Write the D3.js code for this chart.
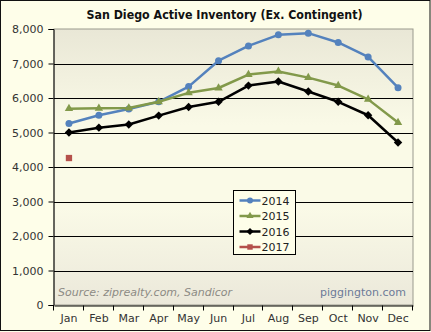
<!DOCTYPE html>
<html>
<head>
<meta charset="utf-8">
<script src="https://cdn.jsdelivr.net/npm/d3@7"></script>
<style>
  html, body { margin: 0; padding: 0; background: #fefee9; }
  svg { display: block; }
  text { font-family: Verdana, "DejaVu Sans", sans-serif; }
</style>
</head>
<body>
<svg id="chart" width="431" height="332"></svg>
<script>
// Monthly active listings (excluding contingent), San Diego
const months = ["Jan","Feb","Mar","Apr","May","Jun","Jul","Aug","Sep","Oct","Nov","Dec"];
const s2014 = [5260, 5500, 5680, 5890, 6330, 7080, 7510, 7830, 7880, 7610, 7190, 6300];
const s2015 = [5690, 5700, 5710, 5890, 6150, 6290, 6680, 6770, 6590, 6360, 5960, 5290];
const s2016 = [5000, 5140, 5230, 5490, 5740, 5890, 6360, 6480, 6190, 5890, 5500, 4710];
const s2017 = [4260];
const yTicks = [0, 1000, 2000, 3000, 4000, 5000, 6000, 7000, 8000];
const seriesNames = ["2014", "2015", "2016", "2017"];

const series = [
  { name: seriesNames[0], values: s2014, color: "#5482bd", shape: "circle" },
  { name: seriesNames[1], values: s2015, color: "#82994a", shape: "triangle" },
  { name: seriesNames[2], values: s2016, color: "#000000", shape: "diamond" },
  { name: seriesNames[3], values: s2017, color: "#b5514b", shape: "square" }
];

const svg = d3.select("#chart");
const W = 431, H = 332;
const plot = { left: 54, right: 413, top: 29, bottom: 305 };

// outer frame
svg.append("rect").attr("x", 0.5).attr("y", 0.5).attr("width", W - 1.5).attr("height", H - 2)
  .attr("fill", "#fefee9").attr("stroke", "#111").attr("stroke-width", 1);

const x = d3.scaleBand().domain(months).range([plot.left, plot.right]).padding(0);
const y = d3.scaleLinear().domain([0, 8000]).range([plot.bottom, plot.top]);
const cx = m => x(m) + x.bandwidth() / 2;

// plot area background
const defs = svg.append("defs");
const grad = defs.append("linearGradient").attr("id", "plotbg")
  .attr("x1", 0).attr("y1", 0).attr("x2", 0).attr("y2", 1);
grad.append("stop").attr("offset", "0%").attr("stop-color", "#e9e7d6");
grad.append("stop").attr("offset", "35%").attr("stop-color", "#fafae7");
grad.append("stop").attr("offset", "65%").attr("stop-color", "#fafae7");
grad.append("stop").attr("offset", "100%").attr("stop-color", "#ebe8da");

svg.append("rect")
  .attr("x", plot.left).attr("y", plot.top)
  .attr("width", plot.right - plot.left).attr("height", plot.bottom - plot.top)
  .attr("fill", "url(#plotbg)").attr("stroke", "#9a9a8e").attr("stroke-width", 1);

// horizontal gridlines
svg.append("g").selectAll("line")
  .data(yTicks.filter(v => v > 0 && v < 8000))
  .join("line")
  .attr("x1", plot.left).attr("x2", plot.right)
  .attr("y1", d => Math.round(y(d)) + 0.5).attr("y2", d => Math.round(y(d)) + 0.5)
  .attr("stroke", "#000").attr("stroke-width", 1);

// source and site credits
svg.append("text").attr("x", 58).attr("y", 296)
  .attr("font-size", 11).attr("font-style", "italic").attr("fill", "#8c8a84")
  .text("Source: ziprealty.com, Sandicor");
svg.append("text").attr("x", 406).attr("y", 296).attr("text-anchor", "end")
  .attr("font-size", 11).attr("fill", "#6c7a98")
  .text("piggington.com");

// y axis
const yAxis = d3.axisLeft(y).tickValues(yTicks).tickSize(5).tickPadding(5)
  .tickFormat(d3.format(","));
const gy = svg.append("g").attr("transform", `translate(${plot.left - 0.5},0)`).call(yAxis);
gy.select(".domain").attr("stroke", "#000");
gy.selectAll(".tick line").attr("stroke", "#000");
gy.selectAll(".tick text").attr("font-size", 11).attr("fill", "#333")
  .attr("font-family", "Verdana, 'DejaVu Sans', sans-serif");

// x axis: labels centered in bands, ticks on band boundaries
const xAxis = d3.axisBottom(x).tickSize(0).tickPadding(9);
const gx = svg.append("g").attr("transform", `translate(0,${plot.bottom + 0.5})`).call(xAxis);
gx.select(".domain").attr("stroke", "#000");
gx.selectAll(".tick text").attr("font-size", 11).attr("fill", "#333")
  .attr("font-family", "Verdana, 'DejaVu Sans', sans-serif");
const bounds = months.map(m => x(m)).concat([x(months[months.length - 1]) + x.bandwidth()]);
gx.selectAll("line.bound").data(bounds).join("line").attr("class", "bound")
  .attr("x1", d => Math.round(d) - 0.5).attr("x2", d => Math.round(d) - 0.5)
  .attr("y1", 0).attr("y2", 5).attr("stroke", "#000");

// markers
function marker(g, shape, color, size) {
  if (shape === "circle") {
    g.append("circle").attr("r", size * 0.5).attr("fill", color);
  } else if (shape === "triangle") {
    g.append("path").attr("d", d3.symbol(d3.symbolTriangle, size * size * 0.62)()).attr("fill", color);
  } else if (shape === "diamond") {
    const s = size * 0.6;
    g.append("path").attr("d", `M0,${-s}L${s},0L0,${s}L${-s},0Z`).attr("fill", color);
  } else {
    const s = size * 0.45;
    g.append("rect").attr("x", -s).attr("y", -s).attr("width", 2 * s).attr("height", 2 * s).attr("fill", color);
  }
}

const line = d3.line().x((d, i) => cx(months[i])).y(d => y(d));
series.forEach(s => {
  svg.append("path").datum(s.values).attr("d", line)
    .attr("fill", "none").attr("stroke", s.color).attr("stroke-width", 2.5)
    .attr("stroke-linejoin", "round");
  s.values.forEach((v, i) => {
    const g = svg.append("g").attr("transform", `translate(${cx(months[i])},${y(v)})`);
    marker(g, s.shape, s.color, 7);
  });
});

// legend
const lg = svg.append("g").attr("transform", "translate(233.5,190.5)");
lg.append("rect").attr("width", 62).attr("height", 64).attr("fill", "#fefee9").attr("stroke", "#000");
series.forEach((s, i) => {
  const yy = 10 + i * 15.5;
  lg.append("line").attr("x1", 6).attr("x2", 27).attr("y1", yy).attr("y2", yy)
    .attr("stroke", s.color).attr("stroke-width", 2.5);
  const g = lg.append("g").attr("transform", `translate(16.5,${yy})`);
  marker(g, s.shape, s.color, 6);
  lg.append("text").attr("x", 28).attr("y", yy + 4).attr("font-size", 11).attr("fill", "#222").text(s.name);
});

// title
svg.append("text").attr("x", 224.5).attr("y", 19).attr("text-anchor", "middle")
  .attr("font-size", 12).attr("font-weight", "bold").attr("fill", "#111")
  .attr("textLength", 276).attr("lengthAdjust", "spacingAndGlyphs")
  .text("San Diego Active Inventory (Ex. Contingent)");
</script>
</body>
</html>
